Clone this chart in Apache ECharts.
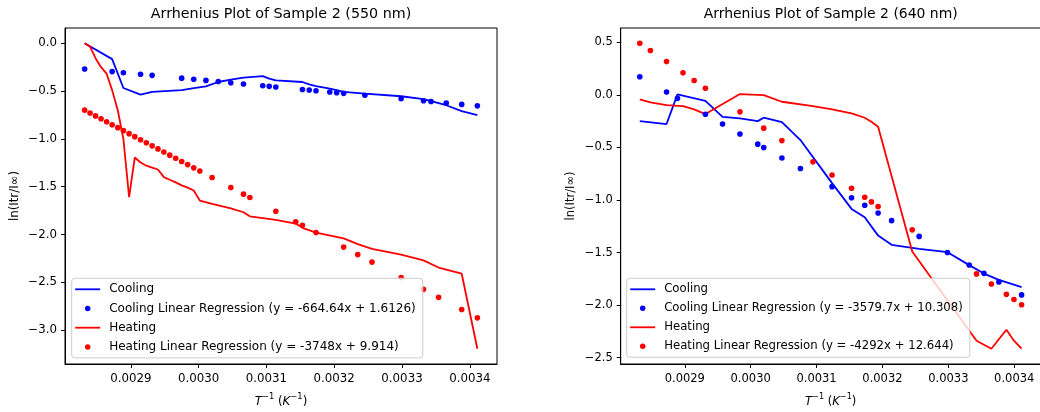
<!DOCTYPE html>
<html>
<head>
<meta charset="utf-8">
<script src="https://cdn.jsdelivr.net/npm/echarts@6/dist/echarts.min.js"></script>
<style>
html,body{margin:0;padding:0;background:#fff;}
#chart{width:1040px;height:412px;}
</style>
</head>
<body>
<div id="chart"></div>
<script>
// ---------- data ----------
const titleL = 'Arrhenius Plot of Sample 2 (550 nm)';
const titleR = 'Arrhenius Plot of Sample 2 (640 nm)';
const yAxisName = 'ln(Itr/I∞)';
const xTicks = [0.0029, 0.0030, 0.0031, 0.0032, 0.0033, 0.0034];
const yTicksL = [0, -0.5, -1, -1.5, -2, -2.5, -3];
const yTicksR = [0.5, 0, -0.5, -1, -1.5, -2, -2.5];

const nameCool = 'Cooling';
const nameHeat = 'Heating';
const nameCoolFitL = 'Cooling Linear Regression (y = -664.64x + 1.6126)';
const nameHeatFitL = 'Heating Linear Regression (y = -3748x + 9.914)';
const nameCoolFitR = 'Cooling Linear Regression (y = -3579.7x + 10.308)';
const nameHeatFitR = 'Heating Linear Regression (y = -4292x + 12.644)';

// left panel (550 nm) — cooling
const xCoolL = [0.0028317, 0.0028723, 0.0028889, 0.0029142, 0.0029313, 0.0029749, 0.0029927, 0.0030107, 0.0030289,
  0.0030474, 0.0030661, 0.0030945, 0.0031041, 0.0031138, 0.0031531, 0.0031631, 0.0031731, 0.0031934, 0.0032036,
  0.0032139, 0.0032452, 0.0032987, 0.0033317, 0.0033428, 0.0033653, 0.0033881, 0.0034112];
const yCoolL = [0, -0.166, -0.468, -0.537, -0.509, -0.49, -0.47, -0.45, -0.405, -0.38, -0.36, -0.343, -0.37, -0.388,
  -0.405, -0.43, -0.447, -0.474, -0.49, -0.509, -0.526, -0.554, -0.585, -0.606, -0.648, -0.71, -0.752];
const yCoolFitL = [-0.2695, -0.2964, -0.3075, -0.3243, -0.3357, -0.3646, -0.3765, -0.3884, -0.4005, -0.4128, -0.4253,
  -0.4441, -0.4505, -0.4570, -0.4831, -0.4897, -0.4964, -0.5099, -0.5166, -0.5235, -0.5443, -0.5798, -0.6018,
  -0.6092, -0.6241, -0.6393, -0.6546];

// left panel (550 nm) — heating
const xHeatL = [0.0028317, 0.0028397, 0.0028478, 0.0028559, 0.0028641, 0.0028723, 0.0028806, 0.0028889, 0.0028973,
  0.0029057, 0.0029142, 0.0029227, 0.0029313, 0.0029399, 0.0029486, 0.0029573, 0.0029661, 0.0029749, 0.0029837,
  0.0029927, 0.0030017, 0.0030198, 0.0030474, 0.0030661, 0.0030755, 0.0031138, 0.0031432, 0.0031531, 0.0031731,
  0.0032139, 0.0032347, 0.0032557, 0.0032987, 0.0033317, 0.0033540, 0.0033881, 0.0034112];
const yHeatL = [0, -0.035, -0.156, -0.25, -0.318, -0.49, -0.70, -1.0, -1.61, -1.195, -1.247, -1.28, -1.30, -1.32,
  -1.40, -1.427, -1.455, -1.486, -1.51, -1.54, -1.645, -1.68, -1.726, -1.767, -1.81, -1.846, -1.885, -1.93, -1.98,
  -2.04, -2.10, -2.15, -2.21, -2.27, -2.345, -2.41, -3.194];
const yHeatFitL = [-0.6992, -0.7292, -0.7596, -0.7899, -0.8206, -0.8514, -0.8825, -0.9136, -0.9451, -0.9766, -1.0084,
  -1.0403, -1.0725, -1.1047, -1.1374, -1.1700, -1.2029, -1.2359, -1.2689, -1.3026, -1.3364, -1.4042, -1.5077,
  -1.5777, -1.6130, -1.7565, -1.8667, -1.9038, -1.9788, -2.1317, -2.2097, -2.2884, -2.4495, -2.5732, -2.6568,
  -2.7846, -2.8712];

// right panel (640 nm) — cooling
const xCoolR = [0.0028317, 0.0028723, 0.0028889, 0.0029313, 0.0029573, 0.0029837, 0.0030107, 0.0030198, 0.0030474,
  0.0030755, 0.0031235, 0.0031531, 0.0031731, 0.0031934, 0.0032139, 0.0032557, 0.0032987, 0.0033317, 0.0033540,
  0.0033767, 0.0034112];
const yCoolR = [-0.25, -0.278, 0.004, -0.057, -0.209, -0.224, -0.25, -0.218, -0.259, -0.43, -0.84, -1.085, -1.164,
  -1.339, -1.427, -1.465, -1.497, -1.62, -1.70, -1.76, -1.83];
const yCoolFitR = [0.1714, 0.0260, -0.0334, -0.1852, -0.2783, -0.3728, -0.4694, -0.5020, -0.6008, -0.7014, -0.8732,
  -0.9792, -1.0508, -1.1234, -1.1968, -1.3464, -1.5004, -1.6185, -1.6983, -1.7796, -1.9031];

// right panel (640 nm) — heating
const xHeatR = [0.0028317, 0.0028478, 0.0028723, 0.0028973, 0.0029142, 0.0029313, 0.0029837, 0.0030198, 0.0030474,
  0.0030945, 0.0031235, 0.0031531, 0.0031731, 0.0031832, 0.0031934, 0.0032452, 0.0033428, 0.0033653, 0.0033881,
  0.0033996, 0.0034112];
const yHeatR = [-0.044, -0.072, -0.098, -0.107, -0.139, -0.183, 0.007, -0.003, -0.066, -0.107, -0.139, -0.177,
  -0.218, -0.256, -0.304, -1.49, -2.339, -2.415, -2.234, -2.339, -2.415];
const yHeatFitR = [0.4903, 0.4212, 0.3161, 0.2088, 0.1363, 0.0629, -0.1620, -0.3170, -0.4354, -0.6376, -0.7621,
  -0.8891, -0.9749, -1.0183, -1.0621, -1.2844, -1.7033, -1.7999, -1.8977, -1.9471, -1.9969];

// ---------- chart ----------
const BLUE = '#0000ff', RED = '#ff0000';
const FONT = 'DejaVu Sans';
const zip = (xs, ys) => xs.map((x, i) => [x, ys[i]]);
const minusFmt = (d) => (v) => (v < 0 ? '\u2212' : '') + Math.abs(v).toFixed(d);

const LINE_ICON = 'path://M0,0L0,0M0,6.1L25,6.1L25,7.9L0,7.9ZM29,14L29,14';
const DOT_ICON = 'path://M0,0L0,0M9.75,7A2.75,2.75,0,1,1,15.25,7A2.75,2.75,0,1,1,9.75,7ZM29,14L29,14';

// k = text scale of the panel (right panel of the picture is rendered ~2.5% smaller)
function xAxis(gi, k) {
  const fs = 11.8 * k;
  return {
    type: 'value', gridIndex: gi, min: 0.00280273, max: 0.00344018,
    axisLine: { show: true, onZero: false, lineStyle: { color: '#000', width: 1 } },
    axisTick: { show: true, length: 4, customValues: xTicks, lineStyle: { color: '#000', width: 1 } },
    axisLabel: { customValues: xTicks, formatter: (v) => v.toFixed(4), fontFamily: FONT, fontSize: fs, color: '#000', margin: 9 },
    splitLine: { show: false },
    name: '{i|T}{s|\u22121} ({i|K}{s|\u22121})',
    nameLocation: 'middle', nameGap: 29,
    nameTextStyle: {
      fontFamily: FONT, fontSize: fs, color: '#000', lineHeight: 18,
      rich: {
        i: { fontFamily: FONT, fontSize: fs, fontStyle: 'italic', color: '#000', lineHeight: 18 },
        s: { fontFamily: FONT, fontSize: 8.4 * k, color: '#000', verticalAlign: 'top', lineHeight: 11 }
      }
    }
  };
}
function yAxis(gi, mn, mx, ticks, k) {
  const fs = 11.8 * k;
  return {
    type: 'value', gridIndex: gi, min: mn, max: mx,
    axisLine: { show: true, onZero: false, lineStyle: { color: '#000', width: 1 } },
    axisTick: { show: true, length: 4, customValues: ticks, lineStyle: { color: '#000', width: 1 } },
    axisLabel: { customValues: ticks, formatter: minusFmt(1), fontFamily: FONT, fontSize: fs, color: '#000', margin: 8 },
    splitLine: { show: false },
    name: yAxisName, nameLocation: 'middle', nameGap: 44, nameRotate: 90,
    nameTextStyle: { fontFamily: FONT, fontSize: fs, color: '#000' }
  };
}
function legend(left, names, k, gap) {
  return {
    orient: 'vertical', left: left, top: 278.3,
    padding: [4, 7, 4, 3.5], itemGap: gap, itemWidth: 29, itemHeight: 14,
    backgroundColor: 'rgba(255,255,255,0.8)', borderColor: '#cccccc', borderWidth: 1, borderRadius: 3,
    selectedMode: false,
    itemStyle: { borderWidth: 0, opacity: 1 },
    textStyle: { fontFamily: FONT, fontSize: 12 * k, color: '#000', padding: 0 },
    data: [
      { name: names[0], icon: LINE_ICON },
      { name: names[1], icon: DOT_ICON },
      { name: names[2], icon: LINE_ICON },
      { name: names[3], icon: DOT_ICON }
    ]
  };
}
function lineS(name, gi, data, color) {
  return { type: 'line', name, xAxisIndex: gi, yAxisIndex: gi, data, symbol: 'none', color,
    lineStyle: { color, width: 1.8 }, z: 2 };
}
function dotS(name, gi, data, color) {
  return { type: 'scatter', name, xAxisIndex: gi, yAxisIndex: gi, data, symbol: 'circle', symbolSize: 5.6, color,
    itemStyle: { color, opacity: 1 }, z: 2 };
}

const KR = 0.975;
const chart = echarts.init(document.getElementById('chart'), null, { renderer: 'canvas' });
chart.setOption({
  animation: false,
  backgroundColor: '#fff',
  title: [
    { text: titleL, left: 281, top: 7, textAlign: 'center', padding: 0,
      textStyle: { fontFamily: FONT, fontSize: 14.3, fontWeight: 'normal', color: '#000' } },
    { text: titleR, left: 830.7, top: 7, textAlign: 'center', padding: 0,
      textStyle: { fontFamily: FONT, fontSize: 14.3 * KR, fontWeight: 'normal', color: '#000' } }
  ],
  grid: [
    { left: 65, top: 28, width: 432, height: 336, show: true, borderColor: '#000', borderWidth: 1,
      backgroundColor: 'transparent', containLabel: false, outerBoundsMode: 'none' },
    { left: 620.7, top: 28, width: 420, height: 336, show: true, borderColor: '#000', borderWidth: 1,
      backgroundColor: 'transparent', containLabel: false, outerBoundsMode: 'none' }
  ],
  xAxis: [xAxis(0, 1), xAxis(1, KR)],
  yAxis: [yAxis(0, -3.354, 0.1597, yTicksL, 1), yAxis(1, -2.5603, 0.6356, yTicksR, KR)],
  legend: [
    legend(71.7, [nameCool, nameCoolFitL, nameHeat, nameHeatFitL], 1, 5.2),
    legend(626.7, [nameCool, nameCoolFitR, nameHeat, nameHeatFitR], KR, 5.0)
  ],
  series: [
    lineS(nameCool, 0, zip(xCoolL, yCoolL), BLUE),
    dotS(nameCoolFitL, 0, zip(xCoolL, yCoolFitL), BLUE),
    lineS(nameHeat, 0, zip(xHeatL, yHeatL), RED),
    dotS(nameHeatFitL, 0, zip(xHeatL, yHeatFitL), RED),
    lineS(nameCool, 1, zip(xCoolR, yCoolR), BLUE),
    dotS(nameCoolFitR, 1, zip(xCoolR, yCoolFitR), BLUE),
    lineS(nameHeat, 1, zip(xHeatR, yHeatR), RED),
    dotS(nameHeatFitR, 1, zip(xHeatR, yHeatFitR), RED)
  ]
});
</script>
</body>
</html>
